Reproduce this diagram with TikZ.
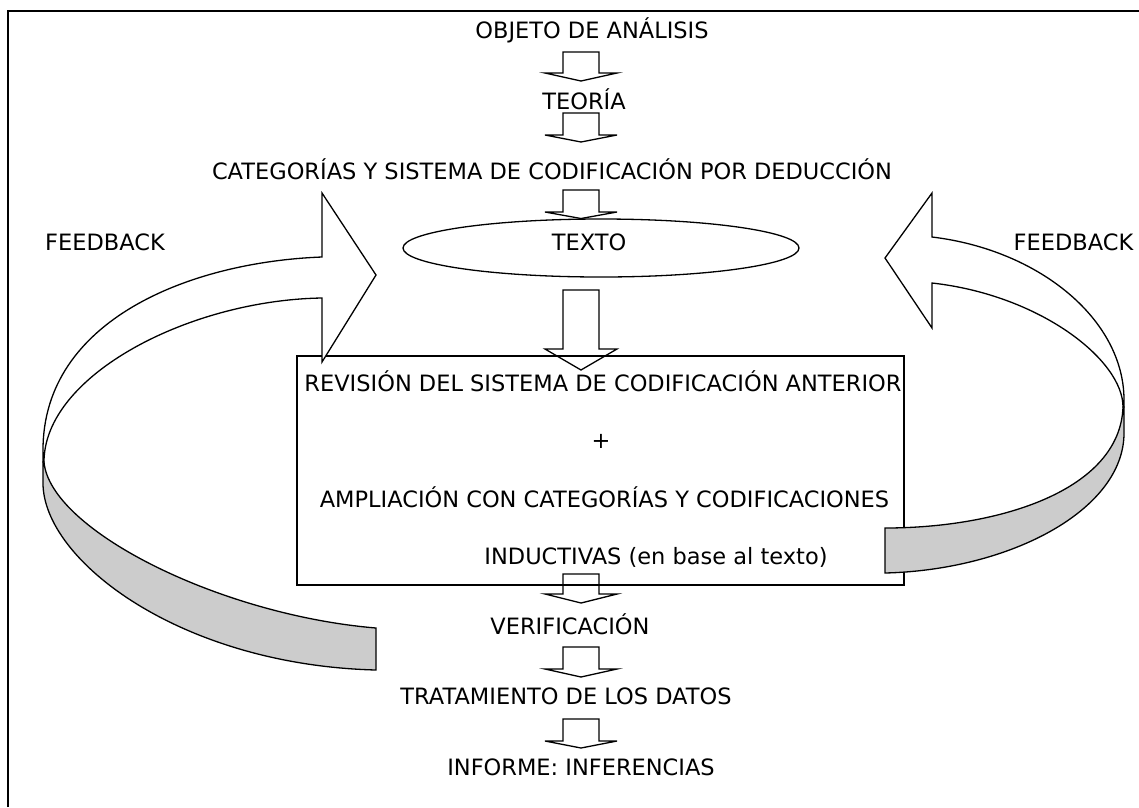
\documentclass[tikz,border=0pt]{standalone}
\usepackage{fontspec}
\setmainfont{DejaVu Sans}
\usetikzlibrary{shapes.geometric}
\definecolor{bandgray}{RGB}{204,204,204}
\newcommand{\BlkArr}[4]{%
  \draw[blockarrow] (#1-18,#2) -- (#1+18,#2) -- (#1+18,#3) -- (#1+36,#3) -- (#1,#4) -- (#1-36,#3) -- (#1-18,#3) -- cycle;}
\begin{document}
\begin{tikzpicture}[x=1pt,y=-1pt,line width=1.3pt,line join=miter,
  txt/.style={inner sep=0pt,anchor=base,font=\fontsize{22.5}{27}\selectfont},
  blockarrow/.style={draw=black},
  band/.style={draw=black,fill=bandgray},
  ribbon/.style={draw=black,fill=white}]
\useasboundingbox (0,0) rectangle (1139,807);
\fill[white] (0,0) rectangle (1139,807);
% frame
\draw[line width=2pt] (7.5,807) -- (7.5,11) -- (1139,11);

% main box
\node[draw,rectangle,minimum width=607pt,minimum height=229pt,inner sep=0pt] (box) at (600.5,470.5) {};

% ellipse
\node[draw,ellipse,minimum width=396pt,minimum height=58pt,inner sep=0pt] (ell) at (601,248) {};

% texts
\node[txt] (obj) at (592,38.5) {OBJETO DE ANÁLISIS};
\node[txt] (teo) at (584,109) {TEORÍA};
\node[txt] (cat) at (552,179) {CATEGORÍAS Y SISTEMA DE CODIFICACIÓN POR DEDUCCIÓN};
\node[txt] (tex) at (589,250) {TEXTO};
\node[txt] (fbl) at (105,250.5) {FEEDBACK};
\node[txt] (fbr) at (1073.5,250.5) {FEEDBACK};
\node[txt] (rev) at (603,391) {REVISIÓN DEL SISTEMA DE CODIFICACIÓN ANTERIOR};
\node[txt] (plus) at (601,448) {+};
\node[txt] (amp) at (604.5,507.5) {AMPLIACIÓN CON CATEGORÍAS Y CODIFICACIONES};
\node[txt] (ind) at (656,564) {INDUCTIVAS (en base al texto)};
\node[txt] (ver) at (570,634.5) {VERIFICACIÓN};
\node[txt] (tra) at (566,704.5) {TRATAMIENTO DE LOS DATOS};
\node[txt] (inf) at (581,775) {INFORME: INFERENCIAS};

% block arrows
\BlkArr{581}{52}{73}{81}
\BlkArr{581}{113}{135}{142}
\BlkArr{581}{190}{212}{218.5}
\BlkArr{581}{290}{349}{370}
\BlkArr{581}{574}{594}{603}
\BlkArr{581}{647}{669}{677}
\BlkArr{581}{719}{741}{748}

% left feedback ribbon
\draw[band] (44,462) .. controls (50,530) and (220,615) .. (376,628) -- (376,670)
  .. controls (180,665) and (43,560) .. (43,483) -- (43,462) -- cycle;
\draw[ribbon] (322,257) -- (322,193) -- (376,275) -- (322,362) -- (322,298)
  .. controls (190,300) and (44,375) .. (44,462) -- (43,462) -- (43,450)
  .. controls (43,320) and (190,262) .. (322,257) -- cycle;

% right feedback ribbon
\draw[band] (1123,407) .. controls (1120,490) and (1000,528) .. (885,528) -- (885,573)
  .. controls (1010,570) and (1124,510) .. (1124,433) -- (1124,407) -- cycle;
\draw[ribbon] (932,237) -- (932,193) -- (885,258) -- (932,328) -- (932,283)
  .. controls (1040,295) and (1123,360) .. (1123,407) -- (1124,407) -- (1124,400)
  .. controls (1124,320) and (1040,250) .. (932,237) -- cycle;
\end{tikzpicture}
\end{document}
